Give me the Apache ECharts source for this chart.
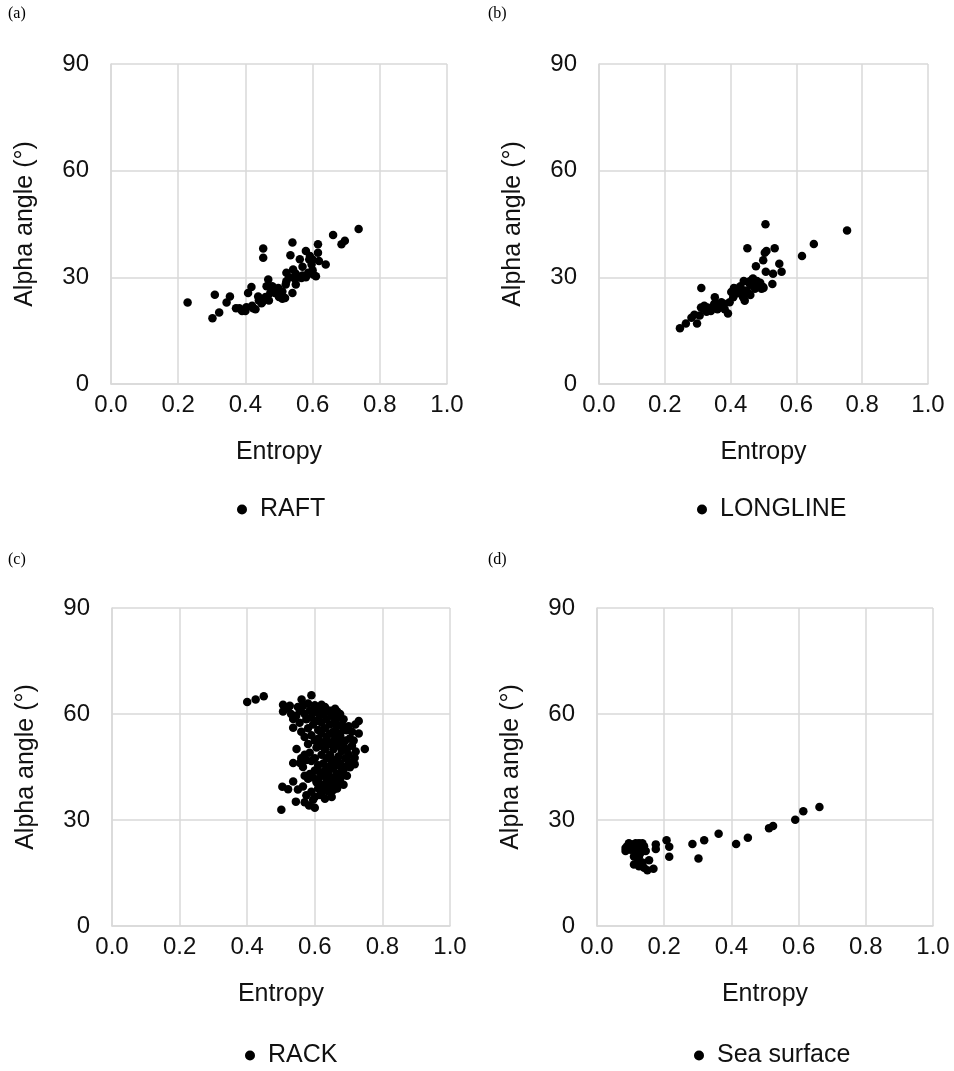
<!DOCTYPE html>
<html>
<head>
<meta charset="utf-8">
<script src="https://cdn.jsdelivr.net/npm/echarts@6/dist/echarts.min.js"></script>
<style>
  html, body { margin: 0; padding: 0; background: #fff; }
  #chart { width: 954px; height: 1071px; }
</style>
</head>
<body>
<div id="chart"></div>
<script>
// axis ticks
const xTicks = [0, 0.2, 0.4, 0.6, 0.8, 1.0];
const yTicks = [0, 30, 60, 90];

const panelLabels = ['(a)', '(b)', '(c)', '(d)'];
const seriesNames = ['RAFT', 'LONGLINE', 'RACK', 'Sea surface'];

// [entropy, alpha angle]
const raftData = [
  [0.228, 22.9], [0.302, 18.5], [0.322, 20.1], [0.309, 25.1], [0.354, 24.6], [0.344, 22.9],
  [0.372, 21.3], [0.382, 21.3], [0.403, 21.6], [0.408, 25.6], [0.418, 27.3], [0.423, 21.3],
  [0.438, 24.6], [0.448, 22.7], [0.453, 38.1], [0.453, 35.5], [0.468, 29.4], [0.463, 27.5],
  [0.474, 25.6], [0.488, 26.7], [0.498, 27.0], [0.503, 25.1], [0.518, 24.2], [0.522, 28.9],
  [0.522, 31.3], [0.540, 39.8], [0.534, 36.2], [0.540, 25.6], [0.542, 32.2], [0.547, 29.6],
  [0.562, 35.1], [0.567, 29.8], [0.580, 37.4], [0.587, 31.3], [0.592, 36.0], [0.597, 33.6],
  [0.602, 30.8], [0.610, 30.3], [0.616, 39.3], [0.616, 36.9], [0.619, 34.6], [0.639, 33.6],
  [0.661, 41.9], [0.686, 39.3], [0.696, 40.3], [0.737, 43.6],
  [0.480, 27.5], [0.490, 25.5], [0.500, 24.5], [0.510, 26.0], [0.520, 28.0], [0.530, 30.0],
  [0.550, 31.0], [0.560, 30.0], [0.570, 33.0], [0.580, 30.0], [0.590, 35.0], [0.600, 32.0],
  [0.600, 35.0], [0.440, 23.5], [0.460, 24.5], [0.470, 23.5], [0.420, 22.0], [0.430, 21.0],
  [0.400, 20.5], [0.450, 23.0], [0.390, 20.5], [0.510, 24.0], [0.550, 28.0], [0.570, 30.5]
];

const longlineData = [
  [0.246, 15.7], [0.264, 17.0], [0.281, 18.6], [0.298, 17.0], [0.306, 19.3], [0.311, 27.0],
  [0.317, 21.2], [0.327, 20.3], [0.337, 21.0], [0.352, 24.4], [0.357, 22.5], [0.367, 21.5],
  [0.372, 23.0], [0.382, 21.0], [0.392, 19.8], [0.397, 23.0], [0.402, 25.9], [0.408, 24.4],
  [0.418, 26.8], [0.428, 25.9], [0.438, 24.4], [0.443, 23.4], [0.448, 26.3], [0.451, 38.2],
  [0.453, 28.7], [0.463, 29.2], [0.468, 29.7], [0.474, 26.8], [0.477, 33.1], [0.484, 27.8],
  [0.494, 26.8], [0.499, 27.3], [0.499, 34.8], [0.504, 36.9], [0.506, 44.9], [0.507, 31.6],
  [0.509, 37.4], [0.527, 28.1], [0.529, 31.0], [0.534, 38.2], [0.548, 33.8], [0.555, 31.6],
  [0.617, 36.0], [0.653, 39.4], [0.754, 43.2],
  [0.290, 19.5], [0.320, 22.0], [0.340, 20.5], [0.360, 21.0], [0.380, 22.5], [0.410, 27.0],
  [0.430, 27.5], [0.440, 25.0], [0.460, 28.0], [0.470, 27.5], [0.490, 28.5], [0.500, 27.0],
  [0.420, 25.5], [0.450, 26.0], [0.350, 22.5], [0.330, 21.5], [0.310, 21.5], [0.480, 29.0],
  [0.440, 29.0], [0.460, 25.0]
];

const rackData = [
  [0.400, 63.4], [0.425, 64.1], [0.449, 65.0],
  [0.590, 65.3], [0.561, 64.1], [0.506, 62.6], [0.506, 60.7], [0.526, 62.3], [0.515, 61.5],
  [0.536, 58.6], [0.536, 56.1], [0.556, 60.9], [0.565, 62.3], [0.620, 62.6], [0.649, 60.9],
  [0.666, 60.7], [0.730, 58.0], [0.730, 54.5], [0.748, 50.1], [0.721, 49.4], [0.718, 47.6],
  [0.694, 55.4], [0.704, 53.1], [0.546, 50.1], [0.570, 48.5], [0.536, 46.1], [0.556, 46.1],
  [0.590, 46.7], [0.536, 40.9], [0.504, 39.4], [0.521, 38.7], [0.550, 38.6], [0.544, 35.2],
  [0.501, 32.9], [0.583, 34.1], [0.595, 35.7], [0.615, 37.1], [0.580, 41.7], [0.605, 40.7],
  [0.666, 38.9], [0.669, 40.7], [0.684, 43.5], [0.704, 44.9], [0.718, 45.8],
  [0.575, 58.5], [0.580, 56.0], [0.585, 61.0], [0.590, 59.0], [0.595, 57.0], [0.600, 60.5],
  [0.605, 58.0], [0.610, 55.5], [0.615, 59.5], [0.620, 57.5], [0.625, 60.0], [0.630, 56.0],
  [0.635, 58.5], [0.640, 61.0], [0.645, 57.0], [0.650, 59.5], [0.655, 55.0], [0.660, 58.0],
  [0.665, 56.5], [0.670, 59.0], [0.675, 54.0], [0.680, 57.0], [0.685, 55.5], [0.690, 52.5],
  [0.695, 50.0],
  [0.570, 53.5], [0.580, 51.5], [0.590, 54.0], [0.600, 52.5], [0.605, 50.5], [0.610, 53.0],
  [0.615, 51.0], [0.620, 54.5], [0.625, 52.0], [0.630, 50.0], [0.635, 53.5], [0.640, 51.5],
  [0.645, 54.5], [0.650, 52.0], [0.655, 50.0], [0.660, 53.0], [0.665, 51.0], [0.670, 54.5],
  [0.675, 52.0], [0.680, 49.5], [0.685, 51.5], [0.690, 47.5], [0.700, 48.5], [0.710, 51.0],
  [0.575, 47.0], [0.585, 49.0], [0.600, 47.5], [0.610, 45.5], [0.620, 48.5], [0.625, 46.0],
  [0.630, 44.0], [0.635, 47.5], [0.640, 45.0], [0.645, 48.5], [0.650, 46.5], [0.655, 44.5],
  [0.660, 47.0], [0.665, 45.5], [0.670, 48.0], [0.675, 46.0], [0.680, 44.5], [0.690, 45.0],
  [0.700, 46.5],
  [0.585, 43.0], [0.595, 42.0], [0.600, 44.0], [0.610, 41.5], [0.615, 43.5], [0.620, 40.0],
  [0.625, 42.5], [0.630, 39.0], [0.635, 41.0], [0.640, 43.0], [0.645, 40.0], [0.650, 42.0],
  [0.655, 38.5], [0.660, 41.0], [0.665, 43.0], [0.675, 41.5], [0.685, 40.0], [0.695, 42.5],
  [0.590, 38.0], [0.600, 36.5], [0.610, 39.0], [0.620, 37.5], [0.630, 36.0], [0.640, 38.0],
  [0.650, 36.5], [0.655, 40.0],
  [0.560, 55.0], [0.555, 57.5], [0.545, 59.5], [0.550, 62.0], [0.530, 60.0], [0.520, 61.8],
  [0.570, 60.0], [0.580, 63.0], [0.600, 62.5], [0.610, 61.0], [0.630, 62.0], [0.645, 60.5],
  [0.660, 61.5], [0.675, 60.0], [0.685, 58.5], [0.700, 56.5], [0.710, 55.0], [0.715, 52.5],
  [0.720, 57.0],
  [0.560, 47.5], [0.565, 45.0], [0.570, 42.5], [0.565, 39.5], [0.575, 37.0], [0.570, 35.0],
  [0.600, 33.5]
];

const seaData = [
  [0.662, 33.7], [0.614, 32.5], [0.590, 30.1], [0.524, 28.3], [0.512, 27.7], [0.449, 25.0],
  [0.414, 23.2], [0.362, 26.1], [0.319, 24.3], [0.302, 19.1], [0.284, 23.2], [0.215, 19.6],
  [0.215, 22.4], [0.207, 24.3], [0.175, 23.1], [0.175, 21.8], [0.155, 18.6], [0.168, 16.2],
  [0.150, 15.8], [0.125, 16.9], [0.110, 17.4], [0.120, 17.8], [0.085, 22.1], [0.085, 21.2],
  [0.090, 22.6], [0.095, 23.4], [0.100, 21.6], [0.105, 23.1], [0.110, 22.4], [0.115, 23.4],
  [0.115, 21.2], [0.125, 23.4], [0.125, 21.6], [0.130, 20.7], [0.135, 23.4], [0.140, 22.6],
  [0.140, 21.6], [0.145, 21.2], [0.110, 19.7], [0.125, 19.7], [0.135, 18.0], [0.140, 16.5]
];

const panelData = [raftData, longlineData, rackData, seaData];

// plot boxes
const grids = [
  { left: 111, top: 64, width: 336, height: 320 },
  { left: 599, top: 64, width: 329, height: 320 },
  { left: 112, top: 608, width: 338, height: 318 },
  { left: 597, top: 608, width: 336, height: 318 }
];
const legendPos = [
  { left: 232, top: 492 },
  { left: 692, top: 492 },
  { left: 240, top: 1038 },
  { left: 689, top: 1038 }
];
const labelPos = [[8, 6], [488, 6], [8, 552], [488, 552]];

const gridColor = '#d9d9d9';
const textColor = '#111';
const font = 'Liberation Sans, Arial, sans-serif';

const chart = echarts.init(document.getElementById('chart'), null, { renderer: 'canvas' });

const option = {
  backgroundColor: '#fff',
  animation: false,
  textStyle: { fontFamily: font },
  grid: grids.map(g => Object.assign({ containLabel: false }, g)),
  xAxis: grids.map((g, i) => ({
    type: 'value',
    gridIndex: i,
    min: xTicks[0],
    max: xTicks[xTicks.length - 1],
    interval: 0.2,
    name: 'Entropy',
    nameLocation: 'middle',
    nameGap: 56,
    nameTextStyle: { fontSize: 25, color: textColor, fontFamily: font },
    axisLine: { lineStyle: { color: gridColor, width: 1.5 } },
    axisTick: { show: false },
    axisLabel: {
      fontSize: 24, color: textColor, margin: 9, fontFamily: font,
      formatter: v => v.toFixed(1)
    },
    splitLine: { lineStyle: { color: gridColor, width: 1.5 } }
  })),
  yAxis: grids.map((g, i) => ({
    type: 'value',
    gridIndex: i,
    min: yTicks[0],
    max: yTicks[yTicks.length - 1],
    interval: 30,
    name: 'Alpha angle (°)',
    nameLocation: 'middle',
    nameGap: 73,
    nameTextStyle: { fontSize: 25, color: textColor, fontFamily: font },
    axisLine: { show: true, lineStyle: { color: gridColor, width: 1.5 } },
    axisTick: { show: false },
    axisLabel: { fontSize: 24, color: textColor, margin: 22, fontFamily: font },
    splitLine: { lineStyle: { color: gridColor, width: 1.5 } }
  })),
  legend: seriesNames.map((name, i) => ({
    data: [name],
    left: legendPos[i].left,
    top: legendPos[i].top,
    icon: 'circle',
    itemWidth: 10,
    itemHeight: 10,
    selectedMode: false,
    textStyle: { fontSize: 25, color: textColor, fontFamily: font, padding: [0, 0, 0, 8] }
  })),
  graphic: panelLabels.map((t, i) => ({
    type: 'text',
    left: labelPos[i][0],
    top: labelPos[i][1],
    style: { text: t, fontSize: 16, fill: '#000', fontFamily: 'Liberation Serif, Times New Roman, serif' }
  })),
  series: seriesNames.map((name, i) => ({
    name: name,
    type: 'scatter',
    xAxisIndex: i,
    yAxisIndex: i,
    symbol: 'circle',
    symbolSize: 8.5,
    itemStyle: { color: '#000', opacity: 1 },
    data: panelData[i]
  }))
};

chart.setOption(option);
</script>
</body>
</html>
